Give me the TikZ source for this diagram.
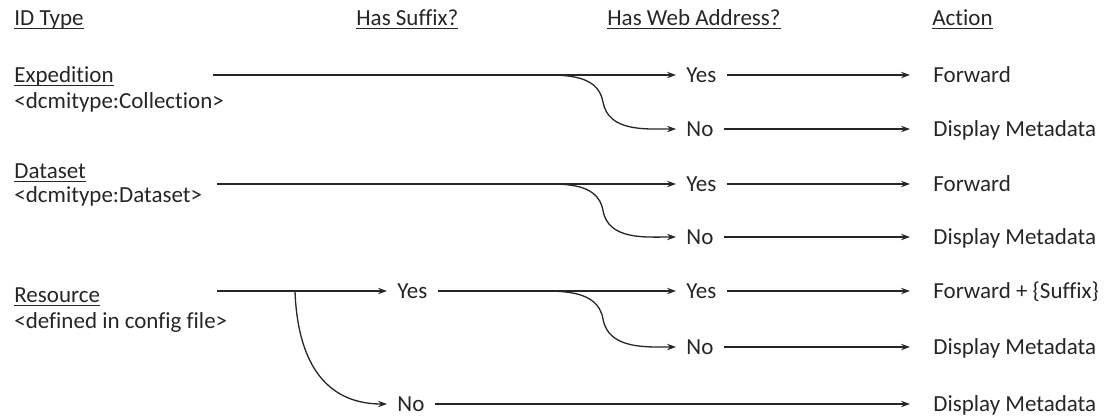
\documentclass[tikz,border=0pt]{standalone}
\usepackage{fontspec}
\setmainfont{Carlito}[Ligatures={NoCommon,NoContextual}]
\usetikzlibrary{arrows.meta, calc}
\definecolor{inkgray}{RGB}{38,38,38}
\newcommand{\undl}[1]{\setbox0\hbox{#1}\rlap{\rule[-2.1pt]{\wd0}{0.7pt}}\box0}
\tikzset{>={Stealth[length=4.5pt,width=3.2pt]}}
\tikzset{
	every node/.style={font=\fontsize{11.5}{14}\selectfont, text=inkgray},
	idtype/.style={anchor=base west, inner sep=0},
	answer/.style={anchor=west, inner xsep=5pt, inner ysep=0, text height=7.4pt, text depth=0pt},
	action/.style={anchor=west, inner xsep=11.5pt, inner ysep=0, text height=7.4pt, text depth=0pt},
	flow/.style={->, draw=inkgray, line width=0.65pt}
}

\begin{document}
\begin{tikzpicture}[x=0.5pt, y=-0.5pt]

	\useasboundingbox (0,0) rectangle (1109,419);

	% column headers
	\node [idtype] (hid) at (14,25) {\undl{ID Type}};
	\node [idtype] (hsuf) at (356,25) {\undl{Has Suffix?}};
	\node [idtype] (hweb) at (607,25) {\undl{Has Web Address?}};
	\node [idtype] (hact) at (932,25) {\undl{Action}};

	% expedition
	\node [idtype] (exp) at (14,82) {\undl{Expedition}};
	\node [idtype] (expsub) at (14,108) {<dcmitype:Collection>};
	\coordinate (exps) at (213,75);
	\coordinate (expbr) at (530,75);
	\node [answer] (expyes) at (676,75) {Yes};
	\node [answer] (expno) at (676,129) {No};
	\node [action] (expfwd) at (910,75) {Forward};
	\node [action] (expmeta) at (910,129) {Display Metadata};

	\draw [flow] (exps) -- (expyes);
	\draw [flow] (expbr) to[out=0,in=100] ($(expbr)!.5!(expno.west)$) to[out=-80,in=180] (expno);
	\draw [flow] (expyes) -- (expfwd);
	\draw [flow] (expno) -- (expmeta);

	% dataset
	\node [idtype] (dat) at (14,178) {\undl{Dataset}};
	\node [idtype] (datsub) at (14,202) {<dcmitype:Dataset>};
	\coordinate (dats) at (217,184);
	\coordinate (datbr) at (530,184);
	\node [answer] (datyes) at (676,184) {Yes};
	\node [answer] (datno) at (676,237) {No};
	\node [action] (datfwd) at (910,184) {Forward};
	\node [action] (datmeta) at (910,237) {Display Metadata};

	\draw [flow] (dats) -- (datyes);
	\draw [flow] (datbr) to[out=0,in=100] ($(datbr)!.5!(datno.west)$) to[out=-80,in=180] (datno);
	\draw [flow] (datyes) -- (datfwd);
	\draw [flow] (datno) -- (datmeta);

	% resource
	\node [idtype] (res) at (14,302) {\undl{Resource}};
	\node [idtype] (ressub) at (14,328) {<defined in config file>};
	\coordinate (ress) at (217,291);
	\coordinate (resbr) at (295,291);
	\node [answer] (sufyes) at (387,291) {Yes};
	\node [answer] (sufno) at (387,404) {No};
	\coordinate (webbr) at (530,291);
	\node [answer] (webyes) at (676,291) {Yes};
	\node [answer] (webno) at (676,347) {No};
	\node [action] (resfwd) at (910,291) {Forward + \{Suffix\}};
	\node [action] (resmeta) at (910,347) {Display Metadata};
	\node [action] (sufmeta) at (910,404) {Display Metadata};

	\draw [flow] (ress) -- (sufyes);
	\draw [flow] (resbr) to[out=-88,in=180,looseness=1.15] (sufno);
	\draw [flow] (sufyes) -- (webyes);
	\draw [flow] (webbr) to[out=0,in=100] ($(webbr)!.5!(webno.west)$) to[out=-80,in=180] (webno);
	\draw [flow] (webyes) -- (resfwd);
	\draw [flow] (webno) -- (resmeta);
	\draw [flow] (sufno) -- (sufmeta);

\end{tikzpicture}
\end{document}
